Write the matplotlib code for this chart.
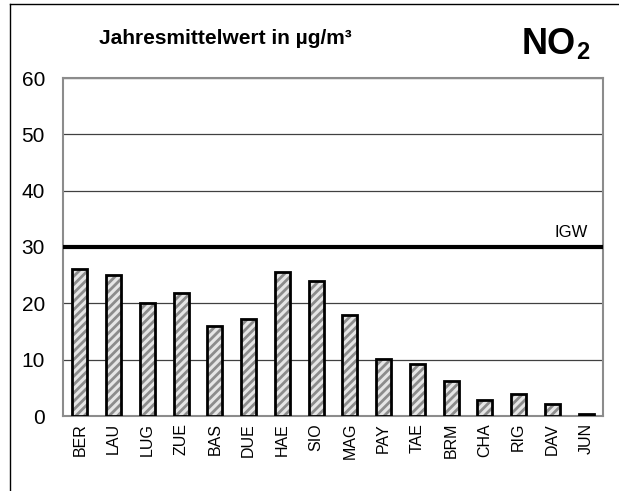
import matplotlib
matplotlib.use("Agg")
from matplotlib import pyplot as plt
from matplotlib.lines import Line2D

# Jahresmittelwerte NO2 pro Station (µg/m³)
stationen = ["BER", "LAU", "LUG", "ZUE", "BAS", "DUE", "HAE", "SIO",
             "MAG", "PAY", "TAE", "BRM", "CHA", "RIG", "DAV", "JUN"]
werte = [26.1, 25.0, 20.1, 21.9, 15.9, 17.3, 25.6, 24.0,
         17.9, 10.2, 9.2, 6.3, 2.8, 3.9, 2.1, 0.4]
igw = 30
y_ticks = [0, 10, 20, 30, 40, 50, 60]

plt.rcParams['font.family'] = ['Liberation Sans', 'DejaVu Sans']
plt.rcParams['hatch.linewidth'] = 2.0

fig = plt.figure(figsize=(6.19, 4.91), dpi=100)
ax = fig.add_axes([63 / 619, 1 - 416 / 491, 540 / 619, 338 / 491])

x = range(len(stationen))
# Schraffur und Rahmen getrennt zeichnen
ax.bar(x, werte, width=0.45, color='#e6e6e6', edgecolor='#8c8c8c',
       hatch='////', linewidth=0, zorder=3)
ax.bar(x, werte, width=0.45, fill=False, edgecolor='black',
       linewidth=2, zorder=4)

# Immissionsgrenzwert
ax.axhline(igw, color='black', linewidth=3, zorder=5)
ax.text(len(stationen) - 1.45, igw + 1.2, "IGW", fontsize=12,
        ha='center', va='bottom')

ax.set_xlim(-0.5, len(stationen) - 0.5)
ax.set_ylim(0, 60)
ax.set_yticks(y_ticks)
ax.set_yticklabels([str(t) for t in y_ticks], fontsize=15)
ax.set_xticks(list(x))
ax.set_xticklabels(stationen, rotation=90, fontsize=11.5)
ax.tick_params(axis='x', length=0, pad=5)
ax.tick_params(axis='y', length=0, pad=13)
ax.yaxis.grid(True, color='#404040', linewidth=0.9)
ax.set_axisbelow(True)
for sp in ax.spines.values():
    sp.set_color('#8c8c8c')
    sp.set_linewidth(1.5)

fig.text(225 / 619, 1 - 38 / 491, "Jahresmittelwert in µg/m³",
         fontsize=15, fontweight='bold', ha='center', va='center')
fig.text(522 / 619, 1 - 54 / 491, "NO", fontsize=26,
         fontweight='bold', ha='left', va='baseline')
fig.text(576 / 619, 1 - 59 / 491, "2", fontsize=17,
         fontweight='bold', ha='left', va='baseline')

# Rahmen links und oben
fig.add_artist(Line2D([10 / 619, 10 / 619], [0, 1 - 4 / 491],
                      color='black', linewidth=1, transform=fig.transFigure))
fig.add_artist(Line2D([10 / 619, 1], [1 - 4 / 491, 1 - 4 / 491],
                      color='black', linewidth=1, transform=fig.transFigure))

fig.savefig("out.png", dpi=100)
